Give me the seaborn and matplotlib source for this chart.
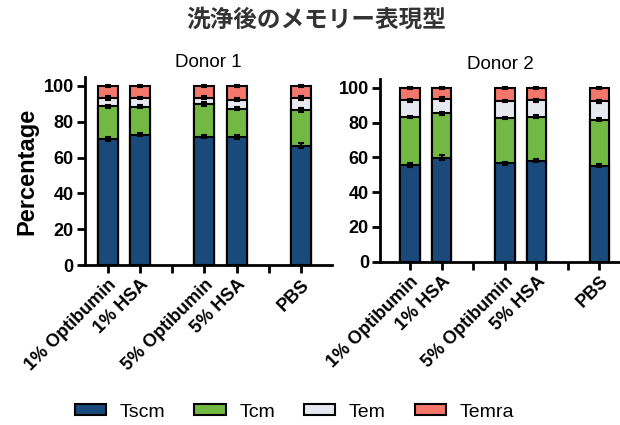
import numpy as np
import pandas as pd
import matplotlib
matplotlib.use("Agg")
import matplotlib.pyplot as plt
import seaborn as sns
from matplotlib.patches import Patch

# Data
conditions = ["1% Optibumin", "1% HSA", "", "5% Optibumin", "5% HSA", " ", "PBS"]
groups = ["1% Optibumin", "1% HSA", "5% Optibumin", "5% HSA", "PBS"]
subsets = ["Tscm", "Tcm", "Tem", "Temra"]

donor1_tscm = [70.2, 72.8, 71.7, 71.3, 66.7]
donor1_tcm = [18.4, 15.7, 18.1, 15.9, 19.7]
donor1_tem = [4.7, 4.8, 3.7, 5.2, 6.7]
donor1_temra = [6.7, 6.7, 6.5, 7.6, 6.9]
donor1_err = [[1.2, 0.8, 1.0, 1.1, 1.4], [0.9, 0.8, 1.0, 0.8, 1.2], [0.9, 0.7, 0.8, 0.7, 1.0], [0.6, 0.6, 0.6, 0.6, 0.6]]

donor2_tscm = [55.7, 59.9, 56.5, 58.0, 55.2]
donor2_tcm = [27.5, 25.4, 26.1, 25.4, 26.5]
donor2_tem = [9.5, 8.2, 9.8, 9.3, 10.5]
donor2_temra = [7.3, 6.5, 7.6, 7.3, 7.8]
donor2_err = [[1.0, 1.6, 0.8, 0.8, 1.0], [0.8, 0.9, 0.7, 0.8, 0.8], [0.8, 1.0, 0.7, 0.8, 0.7], [0.6, 0.6, 0.6, 0.6, 0.6]]

colors = {"Tscm": "#1a4a7c", "Tcm": "#72b944", "Tem": "#e8e8f0", "Temra": "#f5766b"}

title_font = ["Noto Sans CJK JP", "DejaVu Sans"]
plt.rcParams["font.family"] = ["Liberation Sans", "DejaVu Sans"]

fig = plt.figure(figsize=(6.2, 4.25), dpi=100)
ax1 = fig.add_axes([0.137, 0.376, 0.398, 0.443])
ax2 = fig.add_axes([0.613, 0.384, 0.387, 0.430])


def draw(ax, values, errs, title):
    df = pd.DataFrame(dict(zip(subsets, values)), index=groups)
    cum = df.cumsum(axis=1)
    # draw cumulative totals from the top down so the stack shows through
    for s in reversed(subsets):
        d = pd.DataFrame({"condition": groups, "value": cum[s].values})
        sns.barplot(data=d, x="condition", y="value", order=conditions, color=colors[s],
                    saturation=1, width=0.62, edgecolor="black", linewidth=1.5, ax=ax)
    pos = [conditions.index(g) for g in groups]
    for s, e in zip(subsets, errs):
        ax.errorbar(pos, cum[s].values, yerr=e, fmt="none", ecolor="black",
                    elinewidth=1.5, capsize=2.5, capthick=1.5, zorder=5)
    ax.set_ylim(0, 105)
    ax.set_yticks([0, 20, 40, 60, 80, 100])
    ax.set_xlabel("")
    ax.set_ylabel("")
    ax.set_title(title, fontsize=13.5, pad=7)
    for side in ["top", "right"]:
        ax.spines[side].set_visible(False)
    for side in ["left", "bottom"]:
        ax.spines[side].set_linewidth(2)
    ax.tick_params(axis="both", width=2, length=6, labelsize=13, pad=2)
    ax.set_xticks(range(len(conditions)))
    ax.set_xticklabels(conditions, rotation=45, ha="right", rotation_mode="anchor",
                       fontweight="bold")
    for lab in ax.get_yticklabels():
        lab.set_fontweight("bold")


draw(ax1, [donor1_tscm, donor1_tcm, donor1_tem, donor1_temra], donor1_err, "Donor 1")
ax1.set_xlim(-0.7, 6.95)
draw(ax2, [donor2_tscm, donor2_tcm, donor2_tem, donor2_temra], donor2_err, "Donor 2")
ax2.set_xlim(-0.95, 6.65)

ax1.set_ylabel("Percentage", fontsize=17, fontweight="bold", labelpad=4)

fig.text(0.51, 0.953, "洗浄後のメモリー表現型", fontsize=17, fontweight="bold",
         color="#333333", ha="center", va="center", family=title_font)

handles = [Patch(facecolor=colors[s], edgecolor="black", linewidth=1.5) for s in subsets]
fig.legend(handles, subsets, loc="center", bbox_to_anchor=(0.475, 0.03), ncol=4,
           frameon=False, fontsize=14, handlelength=1.6, handleheight=0.5,
           columnspacing=1.5, handletextpad=0.7)

fig.savefig("out.png", dpi=100)
